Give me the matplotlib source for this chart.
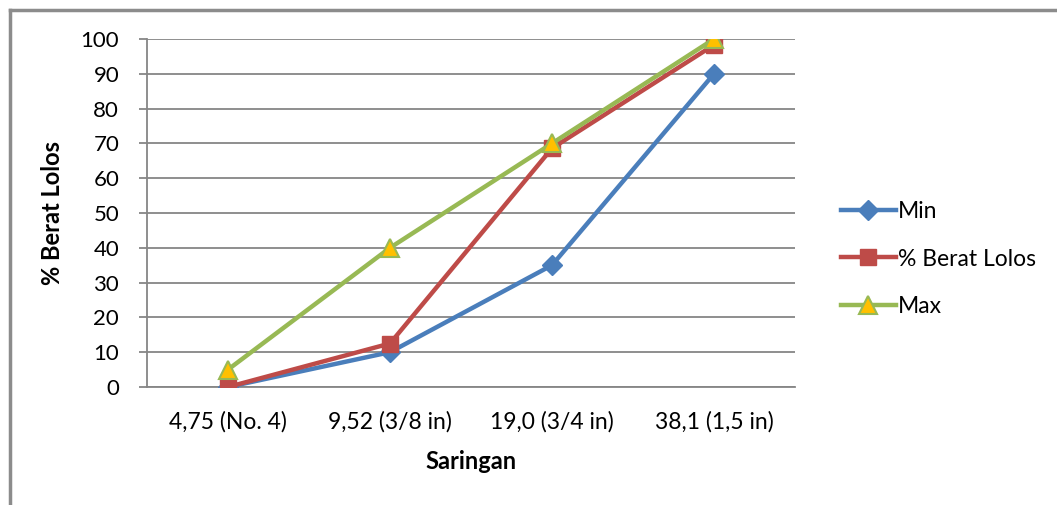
import matplotlib.pyplot as plt
from matplotlib.lines import Line2D

plt.rcParams['font.family'] = ['Lato', 'DejaVu Sans']

# data
categories = ['4,75 (No. 4)', '9,52 (3/8 in)', '19,0 (3/4 in)', '38,1 (1,5 in)']
min_vals = [0, 10, 35, 90]
lolos_vals = [0, 12.5, 68.6, 98.3]
max_vals = [5, 40, 70, 100]
y_ticks = [0, 10, 20, 30, 40, 50, 60, 70, 80, 90, 100]

fig = plt.figure(figsize=(10.57, 5.05), dpi=100)
ax = fig.add_axes([147 / 1057, 1 - 387 / 505, 648 / 1057, 348 / 505])

x = list(range(len(categories)))
ax.plot(x, min_vals, color='#4A7EBB', lw=3.2, marker='D', ms=10,
        mfc='#4A7EBB', mec='#4A7EBB', label='Min', zorder=3)
ax.plot(x, lolos_vals, color='#BE4B48', lw=3.2, marker='s', ms=12,
        mfc='#BE4B48', mec='#BE4B48', label='% Berat Lolos', zorder=4)
ax.plot(x, max_vals, color='#98B954', lw=3.2, marker='^', ms=13,
        mfc='#FFC000', mec='#98B954', mew=1.5, label='Max', zorder=5)

ax.set_xlim(-0.5, len(categories) - 0.5)
ax.set_ylim(0, 100)
ax.set_yticks(y_ticks)
ax.set_xticks(x)
ax.set_xticklabels(categories)
ax.tick_params(axis='x', length=0, pad=17, labelsize=16.5)
ax.tick_params(axis='y', length=6, width=1.3, color='#868686', pad=14, labelsize=16)
ax.yaxis.grid(True, color='#868686', lw=1.3)
ax.set_axisbelow(True)
for s in ['top', 'right']:
    ax.spines[s].set_visible(False)
ax.spines['left'].set_color('#868686')
ax.spines['left'].set_linewidth(1.3)
ax.spines['bottom'].set_color('#868686')
ax.spines['bottom'].set_linewidth(1.3)

ax.set_xlabel('Saringan', fontsize=17, fontweight='bold', labelpad=13)
ax.set_ylabel('% Berat Lolos', fontsize=17, fontweight='bold', labelpad=12)

fig.legend(loc='center left', bbox_to_anchor=(820 / 1057, 1 - 259 / 505),
           frameon=False, fontsize=16.5, handlelength=2.4, handletextpad=0.1,
           labelspacing=1.15)

# outer chart frame (only top and left edges visible)
fig.add_artist(Line2D([9.5 / 1057, 9.5 / 1057], [0, 1 - 9.5 / 505],
                      transform=fig.transFigure, color='#8c8c8c', lw=2.5))
fig.add_artist(Line2D([9.5 / 1057, 1], [1 - 9.5 / 505, 1 - 9.5 / 505],
                      transform=fig.transFigure, color='#8c8c8c', lw=2.5))

fig.savefig('out.png', dpi=100)
